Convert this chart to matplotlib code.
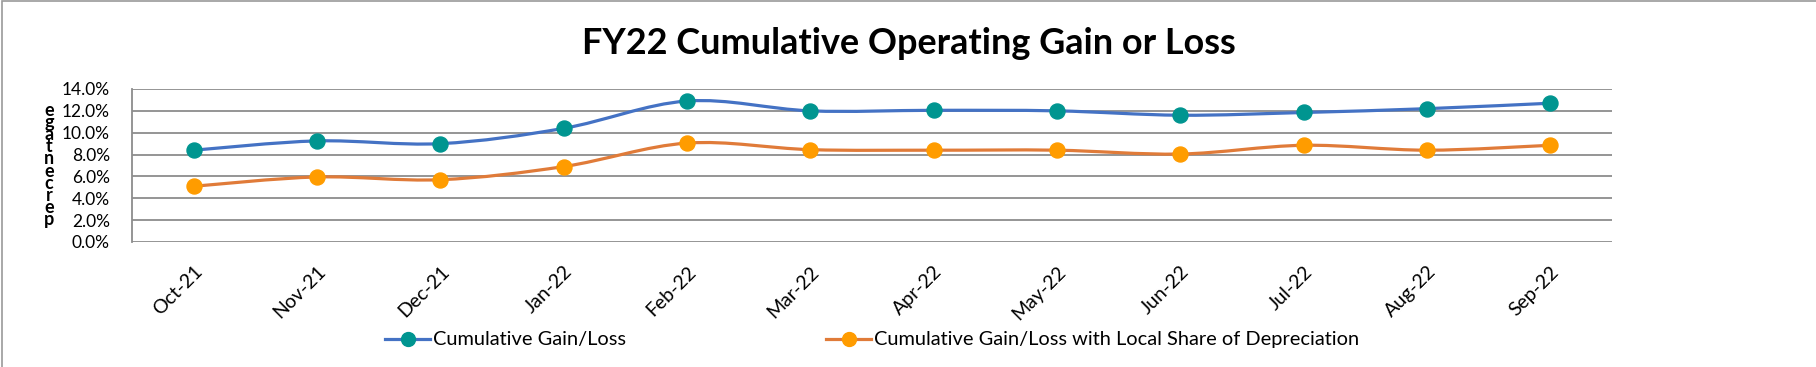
import matplotlib.pyplot as plt
import numpy as np
from matplotlib.path import Path
from matplotlib.patches import PathPatch, Rectangle
from matplotlib.lines import Line2D
from matplotlib.ticker import PercentFormatter

months = ['Oct-21', 'Nov-21', 'Dec-21', 'Jan-22', 'Feb-22', 'Mar-22',
          'Apr-22', 'May-22', 'Jun-22', 'Jul-22', 'Aug-22', 'Sep-22']
gain_loss = [8.4, 9.25, 9.0, 10.4, 12.9, 12.0, 12.05, 12.0, 11.6, 11.85, 12.2, 12.7]
gain_loss_depr = [5.1, 5.95, 5.7, 6.9, 9.05, 8.45, 8.4, 8.4, 8.05, 8.85, 8.4, 8.85]

W, H = 1816, 367
plt.rcParams['font.family'] = ['Lato', 'DejaVu Sans']

fig = plt.figure(figsize=(W / 100, H / 100), dpi=100)
ax = fig.add_axes([132 / W, 1 - 242 / H, (1612 - 132) / W, (242 - 89) / H])

# outer chart border (left and top only visible)
fig.patches.append(Rectangle((2 / W, -0.1), 1.2, 1.1 - 0.5 / H, transform=fig.transFigure,
                             fill=False, edgecolor='#9a9a9a', linewidth=1.2))


def smooth_path(x, y):
    # excel-like smoothed line: cubic bezier segments through the points
    pts = np.column_stack([np.asarray(x, float), np.asarray(y, float)])
    verts = [pts[0]]
    codes = [Path.MOVETO]
    n = len(pts)
    for i in range(n - 1):
        p0 = pts[i - 1] if i > 0 else pts[i]
        p1, p2 = pts[i], pts[i + 1]
        p3 = pts[i + 2] if i + 2 < n else pts[i + 1]
        verts += [p1 + (p2 - p0) / 6, p2 - (p3 - p1) / 6, p2]
        codes += [Path.CURVE4] * 3
    return Path(verts, codes)


xs = np.arange(len(months))
series = [
    (gain_loss, '#4472C4', '#009590', 'Cumulative Gain/Loss'),
    (gain_loss_depr, '#E07B39', '#FF9C00', 'Cumulative Gain/Loss with Local Share of Depreciation'),
]
handles = []
for vals, lc, mc, lab in series:
    ax.add_patch(PathPatch(smooth_path(xs, vals), facecolor='none', edgecolor=lc,
                           linewidth=2.3, zorder=3))
    ax.plot(xs, vals, linestyle='none', marker='o', markersize=10.8,
            color=mc, zorder=4)
    handles.append(Line2D([], [], color=lc, linewidth=2.3, marker='o',
                          markersize=10, markerfacecolor=mc, markeredgecolor=mc, label=lab))

ax.set_xlim(-0.5, len(months) - 0.5)
ax.set_ylim(0, 14)
ax.set_yticks(np.arange(0, 14.1, 2))
ax.yaxis.set_major_formatter(PercentFormatter(decimals=1))
ax.set_xticks(xs)
ax.set_xticklabels(months, rotation=45, ha='right', rotation_mode='anchor')
ax.tick_params(axis='y', length=0, pad=16, labelsize=12.5)
ax.tick_params(axis='x', length=0, pad=15, labelsize=14)
ax.grid(axis='y', color='#8c8c8c', linewidth=1.3)
ax.set_axisbelow(True)
for s in ['top', 'right', 'bottom']:
    ax.spines[s].set_visible(False)
ax.spines['left'].set_color('#8c8c8c')
ax.spines['left'].set_linewidth(1.3)

# stacked axis title as in the original
fig.text(49 / W, 1 - 165 / H, '\n'.join(reversed('percentage')), ha='center', va='center',
         fontsize=13, fontweight='bold', linespacing=0.65)

fig.text(909 / W, 1 - 44 / H, 'FY22 Cumulative Operating Gain or Loss', ha='center',
         va='center', fontsize=25.9, fontweight='bold')

fig.legend(handles=[handles[0]], loc='center left', bbox_to_anchor=(385 / W, 1 - 340 / H),
           frameon=False, borderpad=0, borderaxespad=0, handlelength=2.25, handletextpad=0.15,
           fontsize=14.4)
fig.legend(handles=[handles[1]], loc='center left', bbox_to_anchor=(826 / W, 1 - 340 / H),
           frameon=False, borderpad=0, borderaxespad=0, handlelength=2.25, handletextpad=0.15,
           fontsize=14.4)

plt.savefig('out.png', dpi=100)
